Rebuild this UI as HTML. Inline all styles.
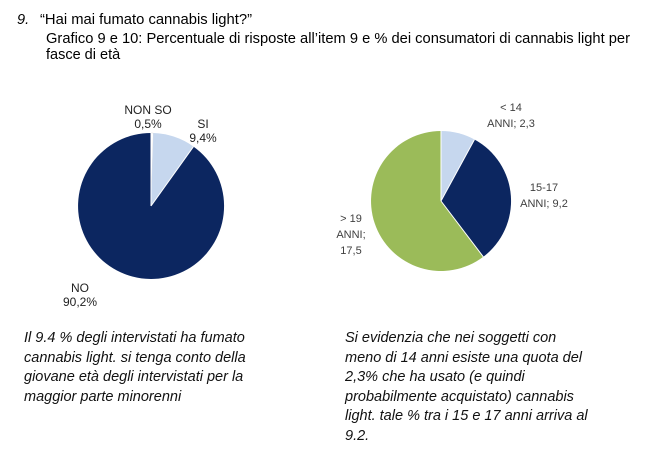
<!DOCTYPE html>
<html><head><meta charset="utf-8"><style>
body{margin:0;background:#fff;}
svg{display:block}
text{font-family:"Liberation Sans",Arial,sans-serif;}
</style></head><body>
<svg width="663" height="468" viewBox="0 0 663 468">
<g font-size="14.5" fill="#000">
<text x="17" y="24" font-style="italic">9.</text>
<text x="40" y="24" textLength="212" lengthAdjust="spacingAndGlyphs">“Hai mai fumato cannabis light?”</text>
<text x="46" y="43" textLength="584" lengthAdjust="spacingAndGlyphs">Grafico 9 e 10: Percentuale di risposte all’item 9 e % dei consumatori di cannabis light per</text>
<text x="46" y="59">fasce di età</text>
</g>
<!-- left pie -->
<path d="M151,206 L151,133 A73,73 0 0 1 153.3,133.04 Z" fill="#ffffff" stroke="#ddd" stroke-width="0.5"/>
<path d="M151,206 L153.3,133.04 A73,73 0 0 1 193.5,146.6 Z" fill="#c6d7ee"/>
<path d="M151,206 L193.5,146.6 A73,73 0 1 1 151,133 Z" fill="#0c2660"/>
<path d="M151,206 L151,133" stroke="#fff" stroke-width="1"/>
<path d="M151,206 L193.5,146.6" stroke="#fff" stroke-width="1"/>
<g font-size="12" fill="#222" text-anchor="middle">
<text x="148" y="114">NON SO</text>
<text x="148" y="128">0,5%</text>
<text x="203" y="128">SI</text>
<text x="203" y="142">9,4%</text>
<text x="80" y="292">NO</text>
<text x="80" y="306">90,2%</text>
</g>
<!-- right pie -->
<path d="M441,201 L441,131 A70,70 0 0 1 474.5,139.5 Z" fill="#c6d7ee"/>
<path d="M441,201 L474.5,139.5 A70,70 0 0 1 483.3,256.8 Z" fill="#0c2660"/>
<path d="M441,201 L483.3,256.8 A70,70 0 1 1 441,131 Z" fill="#9bbb59"/>
<path d="M441,201 L441,131 M441,201 L474.5,139.5 M441,201 L483.3,256.8" stroke="#fff" stroke-width="1"/>
<g font-size="11" fill="#404040" text-anchor="middle">
<text x="511" y="111">&lt; 14</text>
<text x="511" y="127">ANNI; 2,3</text>
<text x="544" y="191">15-17</text>
<text x="544" y="207">ANNI; 9,2</text>
<text x="351" y="222">&gt; 19</text>
<text x="351" y="238">ANNI;</text>
<text x="351" y="254">17,5</text>
</g>
<g font-size="14.5" font-style="italic" fill="#111">
<text x="24" y="342">Il 9.4 % degli intervistati ha fumato</text>
<text x="24" y="362">cannabis light. si tenga conto della</text>
<text x="24" y="381">giovane età degli intervistati per la</text>
<text x="24" y="401">maggior parte minorenni</text>
<text x="345" y="342">Si evidenzia che nei soggetti con</text>
<text x="345" y="362">meno di 14 anni esiste una quota del</text>
<text x="345" y="381">2,3% che ha usato (e quindi</text>
<text x="345" y="401">probabilmente acquistato) cannabis</text>
<text x="345" y="420">light. tale % tra i 15 e 17 anni arriva al</text>
<text x="345" y="440">9.2.</text>
</g>
</svg>
</body></html>
